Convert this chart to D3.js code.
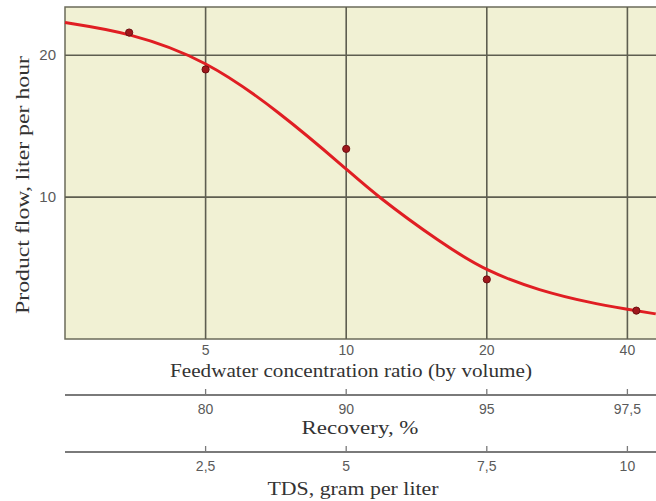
<!DOCTYPE html>
<html>
<head>
<meta charset="utf-8">
<script src="https://cdn.jsdelivr.net/npm/d3@7"></script>
<style>
  body { margin: 0; background: #fff; }
  svg { display: block; }
  .tick-label { font-family: "Liberation Sans", Arial, sans-serif; font-size: 14px; fill: #5a5a5a; }
  .title { font-family: "Liberation Serif", "Times New Roman", serif; font-size: 19px; fill: #333; }
</style>
</head>
<body>
<svg width="656" height="501"></svg>
<script>
// concentration ratio ticks and the matching labels on the two extra scales
const ratioTicks = [5, 10, 20, 40];
const recoveryLabels = ["80", "90", "95", "97,5"];
const tdsLabels = ["2,5", "5", "7,5", "10"];
const flowTicks = [10, 20];

// measured points (ratio, liter per hour)
const pointRatio = [3.43, 5, 10, 20, 41.8];
const pointFlow = [21.6, 19.0, 13.4, 4.2, 2.0];

// fitted curve
const curveRatio = [2.5, 3.43, 5, 7.2, 10, 11.6, 15.9, 20, 26, 33.3, 40, 46];
const curveFlow = [22.3, 21.6, 19.7, 16.0, 12.0, 10.1, 6.8, 4.75, 3.4, 2.55, 2.1, 1.77];

const svg = d3.select("svg");
const plotL = 65, plotR = 656, plotT = 7, plotB = 339;

const x = d3.scaleLog().base(2).domain([2.5, 2.5 * Math.pow(2, (plotR - plotL) / 140.6)]).range([plotL, plotR]);
const y = d3.scaleLinear().domain([0, 23.4]).range([plotB, plotT]);

// plot background
svg.append("rect")
    .attr("x", plotL).attr("y", plotT)
    .attr("width", plotR - plotL + 2).attr("height", plotB - plotT)
    .attr("fill", "#f1f1d4")
    .attr("stroke", "#6b6b5a")
    .attr("stroke-width", 1.5);

// grid lines
svg.append("g").selectAll("line").data(ratioTicks).join("line")
    .attr("x1", d => x(d)).attr("x2", d => x(d))
    .attr("y1", plotT).attr("y2", plotB)
    .attr("stroke", "#5e5e50").attr("stroke-width", 1.6);

svg.append("g").selectAll("line").data(flowTicks).join("line")
    .attr("x1", plotL).attr("x2", plotR)
    .attr("y1", d => y(d)).attr("y2", d => y(d))
    .attr("stroke", "#5e5e50").attr("stroke-width", 1.6);

// y tick labels
svg.append("g").selectAll("text").data(flowTicks).join("text")
    .attr("class", "tick-label")
    .style("font-size", "15px")
    .attr("x", 56).attr("y", d => y(d) + 5)
    .attr("text-anchor", "end")
    .text(d => d);

// curve
const curve = curveRatio.map((r, i) => [r, curveFlow[i]]);
svg.append("path")
    .attr("d", d3.line().x(d => x(d[0])).y(d => y(d[1])).curve(d3.curveBasis)(curve))
    .attr("fill", "none")
    .attr("stroke", "#e01e23")
    .attr("stroke-width", 3);

// points
svg.append("g").selectAll("circle").data(pointRatio.map((r, i) => [r, pointFlow[i]])).join("circle")
    .attr("cx", d => x(d[0])).attr("cy", d => y(d[1]))
    .attr("r", 3.6)
    .attr("fill", "#a0181c")
    .attr("stroke", "#6e1012")
    .attr("stroke-width", 1);

// concentration ratio labels
svg.append("g").selectAll("text").data(ratioTicks).join("text")
    .attr("class", "tick-label")
    .attr("x", d => x(d)).attr("y", 355)
    .attr("text-anchor", "middle")
    .text(d => d);

svg.append("text").attr("class", "title")
    .attr("x", 351).attr("y", 377)
    .attr("text-anchor", "middle")
    .attr("textLength", 362).attr("lengthAdjust", "spacingAndGlyphs")
    .text("Feedwater concentration ratio (by volume)");

// extra scales
function extraAxis(lineY, labels, titleText, titleX, titleW, titleDy) {
    const g = svg.append("g");
    g.append("line")
        .attr("x1", plotL).attr("x2", plotR)
        .attr("y1", lineY).attr("y2", lineY)
        .attr("stroke", "#7a7a7a").attr("stroke-width", 2);
    g.selectAll(".tk").data(ratioTicks).join("line")
        .attr("x1", d => x(d)).attr("x2", d => x(d))
        .attr("y1", lineY - 6).attr("y2", lineY)
        .attr("stroke", "#7a7a7a").attr("stroke-width", 1.3);
    g.selectAll("text.tick-label").data(ratioTicks).join("text")
        .attr("class", "tick-label")
        .attr("x", d => x(d)).attr("y", lineY + 19)
        .attr("text-anchor", "middle")
        .text((d, i) => labels[i]);
    g.append("text").attr("class", "title")
        .attr("x", titleX).attr("y", lineY + titleDy)
        .attr("text-anchor", "middle")
        .attr("textLength", titleW).attr("lengthAdjust", "spacingAndGlyphs")
        .text(titleText);
}
extraAxis(395, recoveryLabels, "Recovery, %", 360, 117, 39);
extraAxis(452, tdsLabels, "TDS, gram per liter", 353, 171, 43);

// y title
svg.append("text").attr("class", "title")
    .attr("transform", "translate(29,185) rotate(-90)")
    .attr("text-anchor", "middle")
    .attr("textLength", 258).attr("lengthAdjust", "spacingAndGlyphs")
    .text("Product flow, liter per hour");
</script>
</body>
</html>
